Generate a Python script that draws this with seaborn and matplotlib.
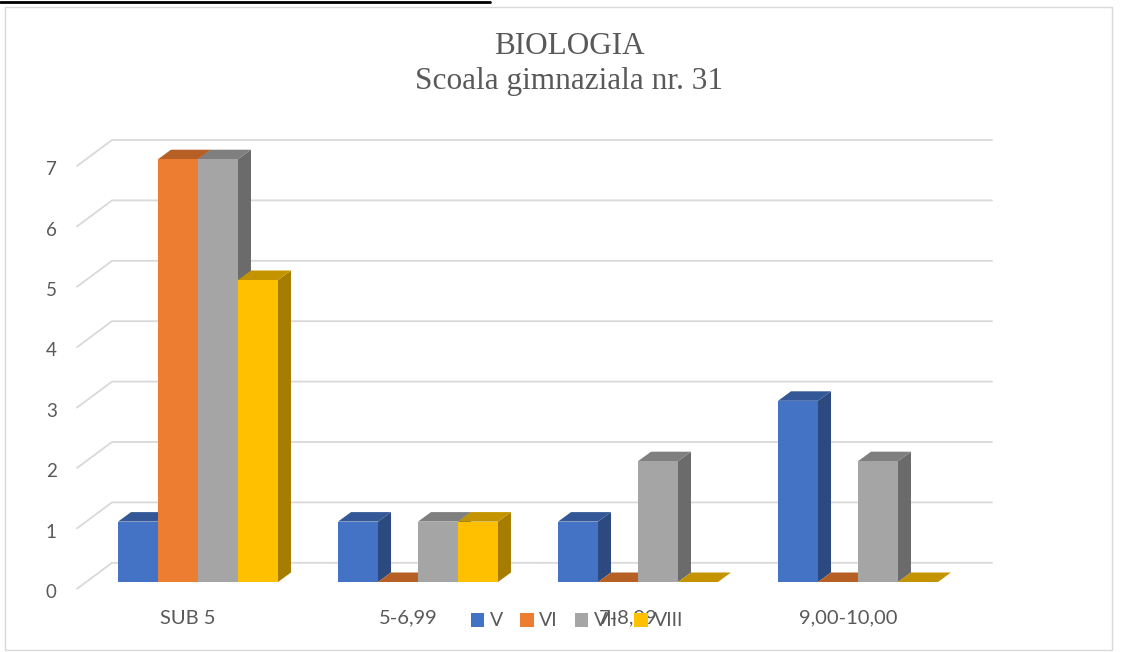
import numpy as np
import pandas as pd
import matplotlib
matplotlib.use('Agg')
import matplotlib.pyplot as plt
import seaborn as sns
from matplotlib.patches import Polygon, Rectangle, Patch
from matplotlib.lines import Line2D
from matplotlib.colors import to_rgb
from matplotlib.transforms import ScaledTranslation

intervale = ['SUB 5', '5-6,99', '7-8,99', '9,00-10,00']
clase = ['V', 'VI', 'VII', 'VIII']
elevi_V = [1, 1, 1, 3]
elevi_VI = [7, 0, 0, 0]
elevi_VII = [7, 1, 2, 2]
elevi_VIII = [5, 1, 0, 0]
culori = ['#4472C4', '#ED7D31', '#A5A5A5', '#FFC000']
y_ticks = list(range(8))

df = pd.DataFrame({
    'interval': intervale * 4,
    'clasa': np.repeat(clase, len(intervale)),
    'elevi': elevi_V + elevi_VI + elevi_VII + elevi_VIII,
})

sns.set_style('white')
plt.rcParams['font.family'] = ['Lato', 'DejaVu Sans']
gri = '#595959'

W, H = 1127, 652
fig = plt.figure(figsize=(W / 100, H / 100), dpi=100)
ax = fig.add_axes([88 / W, 1 - 582 / H, 880 / W, 422.8 / H])

sns.barplot(data=df, x='interval', y='elevi', hue='clasa', palette=culori,
            width=0.727, saturation=1, legend=False, linewidth=0, ax=ax)
ax.set_xlim(-0.5, 3.5)
ax.set_ylim(0, 7)
ax.set_xlabel('')
ax.set_ylabel('')
for s in ax.spines.values():
    s.set_visible(False)

# pixel -> data scale
sx = ax.bbox.width / 4.0
sy = ax.bbox.height / 7.0
x0, x1 = ax.get_xlim()

# back wall gridlines with floor diagonals
for v in y_ticks:
    ax.plot([x0 - 11 / sx, x0 + 24 / sx, x1 + 24 / sx],
            [v - 6.8 / sy, v + 19.2 / sy, v + 19.2 / sy],
            color='#D9D9D9', lw=1.3, zorder=1, clip_on=False)

# pseudo 3d faces
dx, dy = 13 / sx, 9.5 / sy
bars = sorted(ax.patches, key=lambda p: p.get_x())
for k, p in enumerate(bars):
    x, w, h = p.get_x(), p.get_width(), p.get_height()
    c = np.array(to_rgb(p.get_facecolor()))
    side = Polygon([(x + w, 0), (x + w + dx, dy), (x + w + dx, h + dy), (x + w, h)],
                   facecolor=c * 0.65, lw=0, zorder=2 + 3 * k, clip_on=False)
    top = Polygon([(x, h), (x + w, h), (x + w + dx, h + dy), (x + dx, h + dy)],
                  facecolor=c * 0.77, lw=0, zorder=3 + 3 * k, clip_on=False)
    ax.add_patch(side)
    ax.add_patch(top)
    p.set_zorder(4 + 3 * k)
    p.set_clip_on(False)

ax.set_yticks(y_ticks)
ax.tick_params(axis='y', length=0, pad=22.5, labelsize=13.5, labelcolor=gri)
ax.tick_params(axis='x', length=0, pad=20, labelsize=14.5, labelcolor=gri)
for lab in ax.get_yticklabels():
    lab.set_transform(lab.get_transform() + ScaledTranslation(0, -0.09, fig.dpi_scale_trans))
for lab in ax.get_xticklabels():
    lab.set_transform(lab.get_transform() + ScaledTranslation(-0.10, 0, fig.dpi_scale_trans))

fig.text(569 / W, 1 - 46 / H, 'BIOLOGIA', ha='center', va='center',
         fontsize=22.5, color=gri, family='Liberation Serif')
fig.text(569 / W, 1 - 82 / H, 'Scoala gimnaziala nr. 31', ha='center', va='center',
         fontsize=22.5, color=gri, family='Liberation Serif')

handles = [Patch(facecolor=c, edgecolor='none') for c in culori]
leg = fig.legend(handles, clase, loc='center', bbox_to_anchor=(577 / W, 1 - 621 / H),
                 ncol=4, frameon=False, fontsize=14, labelcolor=gri,
                 handlelength=0.7, handleheight=0.7, handletextpad=0.3,
                 columnspacing=0.85)

fig.add_artist(Rectangle((5 / W, 2 / H), 1107 / W, 643 / H, transform=fig.transFigure,
                         fill=False, edgecolor='#D9D9D9', lw=1))
fig.add_artist(Line2D([0, 490 / W], [1 - 2 / H, 1 - 2 / H], color='black', lw=2))

fig.savefig('out.png', dpi=100)
